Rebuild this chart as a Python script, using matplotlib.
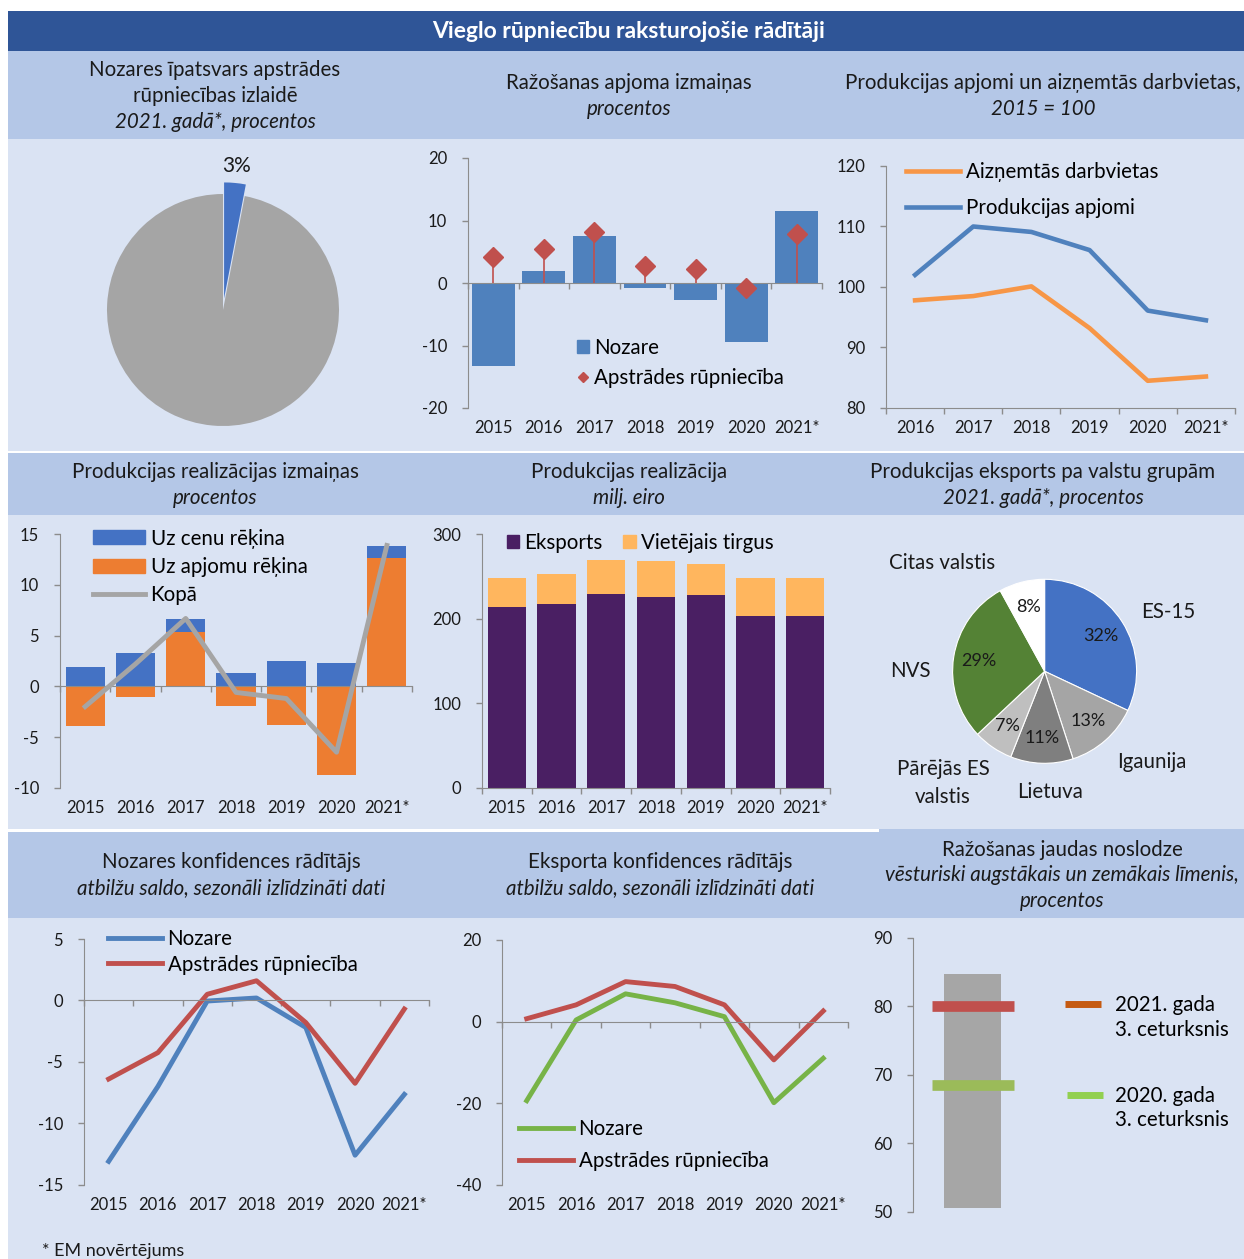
import matplotlib
matplotlib.use('Agg')
import matplotlib.pyplot as plt
from matplotlib.patches import Rectangle, Patch
from matplotlib.lines import Line2D
from matplotlib import transforms
import numpy as np

plt.rcParams['font.family'] = ['Lato', 'DejaVu Sans']
plt.rcParams['axes.unicode_minus'] = False

W, H = 1244, 1259

# ---- data ----
years = ['2015', '2016', '2017', '2018', '2019', '2020', '2021*']
years_idx = ['2016', '2017', '2018', '2019', '2020', '2021*']

share_values = [3, 97]

prod_change_sector = [-13.2, 2.0, 7.6, -0.8, -2.7, -9.5, 11.6]
prod_change_manuf = [4.2, 5.5, 8.1, 2.7, 2.2, -0.8, 7.8]

output_index = [102.0, 110.0, 109.1, 106.1, 96.1, 94.5]
employment_index = [97.8, 98.5, 100.1, 93.2, 84.5, 85.2]

sales_price = [1.9, 3.3, 1.2, 1.3, 2.5, 2.3, 1.1]
sales_volume = [-3.95, -1.05, 5.4, -1.95, -3.8, -8.7, 12.7]
sales_total = [-2.0, 2.2, 6.7, -0.6, -1.2, -6.5, 13.9]

sales_export = [213.9, 217.8, 229.6, 225.7, 227.6, 203.6, 203.6]
sales_domestic = [33.9, 35.5, 40.2, 42.6, 37.5, 44.6, 44.6]

export_groups = ['ES-15', 'Igaunija', 'Lietuva', 'Pārējās ES\nvalstis', 'NVS', 'Citas valstis']
export_shares = [32, 13, 11, 7, 29, 8]

conf_sector = [-13.1, -7.0, -0.05, 0.2, -2.2, -12.6, -7.65]
conf_manuf = [-6.4, -4.25, 0.5, 1.6, -1.8, -6.75, -0.7]

exp_conf_sector = [-19.4, 0.4, 6.8, 4.6, 1.2, -19.9, -9.0]
exp_conf_manuf = [0.7, 4.1, 9.8, 8.6, 4.1, -9.4, 2.6]

capacity_hist = [50.6, 84.7]
capacity_2021q3 = 80.0
capacity_2020q3 = 68.5

# ---- colours ----
TITLE_BG = '#2F5597'
HEAD_BG = '#B4C7E7'
BODY_BG = '#DAE3F3'
AXC = '#8C8C8C'
TXT = '#1A1A1A'
FS = 14.8   # header / legend text


def fbox(x0, y0, x1, y1):
    return [x0 / W, 1 - y1 / H, (x1 - x0) / W, (y1 - y0) / H]


def band(x0, y0, x1, y1, color):
    fig.add_artist(Rectangle((x0 / W, 1 - y1 / H), (x1 - x0) / W, (y1 - y0) / H,
                             transform=fig.transFigure, facecolor=color,
                             edgecolor='none', zorder=-10))


def ftext(x, y, s, **kw):
    kw.setdefault('ha', 'center')
    kw.setdefault('va', 'center')
    kw.setdefault('fontsize', FS)
    kw.setdefault('color', TXT)
    fig.text(x / W, 1 - y / H, s, **kw)


def style(ax, zero=False):
    ax.set_facecolor('none')
    ax.spines['top'].set_visible(False)
    ax.spines['right'].set_visible(False)
    ax.spines['left'].set_color(AXC)
    ax.spines['bottom'].set_color(AXC)
    if zero:
        ax.spines['bottom'].set_position(('data', 0))
    ax.tick_params(axis='both', color=AXC, length=4, width=1,
                   labelsize=12, labelcolor=TXT)
    ax.tick_params(axis='y', pad=11)


def cats(ax, labels, box, off=20):
    tr = transforms.blended_transform_factory(ax.transData, ax.transAxes)
    h = box[3] - box[1]
    for i, lab in enumerate(labels):
        ax.text(i, -off / h, lab, transform=tr, ha='center', va='center',
                fontsize=12, color=TXT)
    ax.set_xticks(np.arange(-0.5, len(labels)))
    ax.set_xticklabels([])
    ax.set_xlim(-0.5, len(labels) - 0.5)


def leg(ax, handles, labels, x, y, **kw):
    kw.setdefault('fontsize', FS)
    kw.setdefault('handletextpad', 0.25)
    l = ax.legend(handles, labels, loc='center left',
                  bbox_to_anchor=(x / W, 1 - y / H),
                  bbox_transform=fig.transFigure, frameon=False,
                  borderpad=0, borderaxespad=0, **kw)
    return l


fig = plt.figure(figsize=(W / 100, H / 100), dpi=100)
fig.patch.set_facecolor('white')

# ---- background bands ----
band(8, 11, 1244, 51, TITLE_BG)
band(8, 51, 1244, 139, HEAD_BG)
band(8, 139, 1244, 451, BODY_BG)
band(8, 453, 1244, 515, HEAD_BG)
band(8, 515, 1244, 829, BODY_BG)
band(8, 832, 1244, 918, HEAD_BG)
band(879, 829, 1244, 832, HEAD_BG)
band(8, 918, 1244, 1259, BODY_BG)

ftext(629, 32, 'Vieglo rūpniecību raksturojošie rādītāji', color='white',
      fontsize=16.5, fontweight='bold')

# headers
ftext(215, 70, 'Nozares īpatsvars apstrādes')
ftext(215, 96, 'rūpniecības izlaidē')
ftext(215, 122, '2021. gadā*, procentos', style='italic')
ftext(629, 83, 'Ražošanas apjoma izmaiņas')
ftext(629, 109, 'procentos', style='italic')
ftext(1043, 83, 'Produkcijas apjomi un aizņemtās darbvietas,')
ftext(1043, 109, '2015 = 100', style='italic')

ftext(215, 472, 'Produkcijas realizācijas izmaiņas')
ftext(215, 498, 'procentos', style='italic')
ftext(629, 472, 'Produkcijas realizācija')
ftext(629, 498, 'milj. eiro', style='italic')
ftext(1043, 472, 'Produkcijas eksports pa valstu grupām')
ftext(1043, 498, '2021. gadā*, procentos', style='italic')

ftext(231, 862, 'Nozares konfidences rādītājs')
ftext(231, 888, 'atbilžu saldo, sezonāli izlīdzināti dati', style='italic')
ftext(660, 862, 'Eksporta konfidences rādītājs')
ftext(660, 888, 'atbilžu saldo, sezonāli izlīdzināti dati', style='italic')
ftext(1062, 850, 'Ražošanas jaudas noslodze')
ftext(1062, 875, 'vēsturiski augstākais un zemākais līmenis,', style='italic')
ftext(1062, 901, 'procentos', style='italic')

ftext(42, 1251, '* EM novērtējums', ha='left', fontsize=13)

x7 = np.arange(len(years))

# ---- panel 1: pie share ----
ax1 = fig.add_axes(fbox(223 - 145, 310 - 145, 223 + 145, 310 + 145))
_, t1 = ax1.pie(share_values, colors=['#4472C4', '#A5A5A5'], startangle=90,
                counterclock=False, explode=[0.1, 0],
                labels=[f'{share_values[0]}%', ''], labeldistance=1.15,
                textprops=dict(fontsize=15, color=TXT))
t1[0].set_ha('center')

# ---- panel 2: production change ----
b2 = (468, 158, 822, 408)
ax2 = fig.add_axes(fbox(*b2))
style(ax2, zero=True)
ax2.bar(x7, prod_change_sector, width=0.85, color='#4F81BD', zorder=2)
ax2.vlines(x7, 0, prod_change_manuf, color='#C0504D', lw=1.2, zorder=3)
ax2.plot(x7, prod_change_manuf, ls='none', marker='D', ms=10,
         color='#C0504D', zorder=4)
ax2.set_ylim(-20, 20)
ax2.set_yticks([-20, -10, 0, 10, 20])
cats(ax2, years, b2)
leg(ax2, [Patch(color='#4F81BD'),
          Line2D([], [], ls='none', marker='D', ms=5, color='#C0504D')],
    ['Nozare', 'Apstrādes rūpniecība'], 577, 363,
    handlelength=0.6, handleheight=0.6, labelspacing=0.5)

# ---- panel 3: index lines ----
b3 = (886, 166, 1235, 408)
ax3 = fig.add_axes(fbox(*b3))
style(ax3)
x6 = np.arange(len(years_idx))
lo, = ax3.plot(x6, employment_index, color='#F79646', lw=3.3)
lb, = ax3.plot(x6, output_index, color='#4F81BD', lw=3.3)
ax3.set_ylim(80, 120)
ax3.set_yticks([80, 90, 100, 110, 120])
cats(ax3, years_idx, b3)
leg(ax3, [lo, lb], ['Aizņemtās darbvietas', 'Produkcijas apjomi'], 906, 190,
    handlelength=2.65, labelspacing=0.75)

# ---- panel 4: sales change ----
b4 = (60, 534.3, 412, 787.7)
ax4 = fig.add_axes(fbox(*b4))
style(ax4, zero=True)
price_bottom = [v if (v > 0 and p > 0) else 0 for v, p in zip(sales_volume, sales_price)]
ax4.bar(x7, sales_volume, width=0.78, color='#ED7D31', zorder=2)
ax4.bar(x7, sales_price, bottom=price_bottom, width=0.78, color='#4472C4', zorder=2)
lt, = ax4.plot(x7, sales_total, color='#A5A5A5', lw=3.5, zorder=4)
ax4.set_ylim(-10, 15)
ax4.set_yticks([-10, -5, 0, 5, 10, 15])
cats(ax4, years, b4)
leg(ax4, [Patch(color='#4472C4'), Patch(color='#ED7D31'), lt],
    ['Uz cenu rēķina', 'Uz apjomu rēķina', 'Kopā'], 93, 567,
    handlelength=2.55, handleheight=0.65, labelspacing=0.41)

# ---- panel 5: sales ----
b5 = (482, 534.3, 830, 787.7)
ax5 = fig.add_axes(fbox(*b5))
style(ax5)
ax5.bar(x7, sales_export, width=0.77, color='#4A1F63', zorder=2)
ax5.bar(x7, sales_domestic, bottom=sales_export, width=0.77, color='#FFB65E', zorder=2)
ax5.set_ylim(0, 300)
ax5.set_yticks([0, 100, 200, 300])
cats(ax5, years, b5)
leg(ax5, [Patch(color='#4A1F63'), Patch(color='#FFB65E')],
    ['Eksports', 'Vietējais tirgus'], 507, 543, ncol=2,
    handlelength=0.6, handleheight=0.6, columnspacing=1.0)

# ---- panel 6: export pie ----
ax6 = fig.add_axes(fbox(1044.6 - 115, 671.3 - 115, 1044.6 + 115, 671.3 + 115))
ax6.pie(export_shares,
        colors=['#4472C4', '#A5A5A5', '#7F7F7F', '#BFBFBF', '#548235', 'white'],
        startangle=90, counterclock=False,
        wedgeprops=dict(edgecolor='white', linewidth=0.8),
        autopct=lambda p: f'{p:.0f}%', pctdistance=0.72,
        textprops=dict(fontsize=13, color=TXT))
label_pos = [(1.34, 0.645), (1.167, -0.986), (0.059, -1.312),
             (-1.104, -1.214), (-1.463, 0.003), (-1.115, 1.177)]
for lab, (px, py) in zip(export_groups, label_pos):
    ax6.text(px, py, lab, ha='center', va='center', fontsize=FS, color=TXT,
             linespacing=1.45)

# ---- panel 7: sector confidence ----
b7 = (84, 939, 429, 1184.7)
ax7 = fig.add_axes(fbox(*b7))
style(ax7, zero=True)
l7a, = ax7.plot(x7, conf_sector, color='#4F81BD', lw=3.5)
l7b, = ax7.plot(x7, conf_manuf, color='#C0504D', lw=3.5)
ax7.set_ylim(-15, 5)
ax7.set_yticks([-15, -10, -5, 0, 5])
cats(ax7, years, b7)
leg(ax7, [l7a, l7b], ['Nozare', 'Apstrādes rūpniecība'], 108, 952,
    handlelength=2.65, labelspacing=0.25)

# ---- panel 8: export confidence ----
b8 = (502, 940, 848, 1184.7)
ax8 = fig.add_axes(fbox(*b8))
style(ax8, zero=True)
l8a, = ax8.plot(x7, exp_conf_sector, color='#77B347', lw=3.5)
l8b, = ax8.plot(x7, exp_conf_manuf, color='#C0504D', lw=3.5)
ax8.set_ylim(-40, 20)
ax8.set_yticks([-40, -20, 0, 20])
cats(ax8, years, b8)
leg(ax8, [l8a, l8b], ['Nozare', 'Apstrādes rūpniecība'], 519, 1145,
    handlelength=2.65, labelspacing=0.59)

# ---- panel 9: capacity utilisation ----
ax9 = fig.add_axes(fbox(913, 937.7, 1040, 1211.7))
style(ax9)
ax9.spines['bottom'].set_visible(False)
ax9.set_xticks([])
ax9.bar(0.469, capacity_hist[1] - capacity_hist[0], bottom=capacity_hist[0],
        width=0.445, color='#A6A6A6')
ax9.hlines(capacity_2021q3, 0.15, 0.795, color='#C0504D', lw=7.7)
ax9.hlines(capacity_2020q3, 0.15, 0.795, color='#9BBB59', lw=7.7)
ax9.set_xlim(0, 1)
ax9.set_ylim(50, 90)
ax9.set_yticks([50, 60, 70, 80, 90])
blank = Line2D([], [], color='none')
lg1 = leg(ax9, [Line2D([], [], color='#C55A11', lw=5, solid_capstyle='butt'), blank],
          ['2021. gada', '3. ceturksnis'], 1065, 1017.5,
          handlelength=1.75, handletextpad=0.68, labelspacing=0.2)
ax9.add_artist(lg1)
leg(ax9, [Line2D([], [], color='#92D050', lw=5, solid_capstyle='butt'), blank],
    ['2020. gada', '3. ceturksnis'], 1067, 1108,
    handlelength=1.75, handletextpad=0.58, labelspacing=0.2)

fig.savefig('out.png', dpi=100)
